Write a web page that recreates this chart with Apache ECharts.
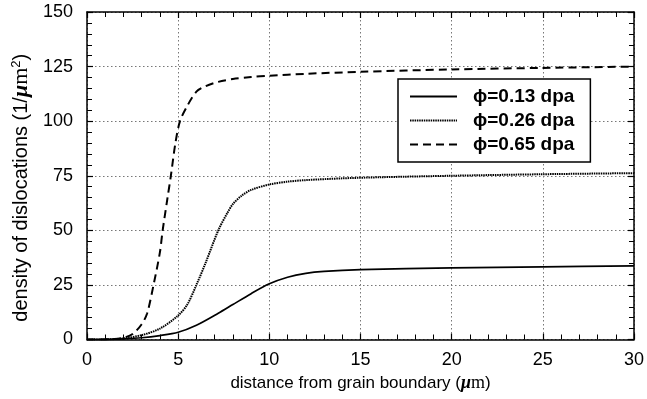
<!DOCTYPE html>
<html><head><meta charset="utf-8">
<script src="https://cdn.jsdelivr.net/npm/echarts@6/dist/echarts.min.js"></script>
<style>html,body{margin:0;padding:0;background:#fff}#c{width:647px;height:399px}</style>
</head><body><div id="c"></div>
<script>
const seriesNames = ['ϕ=0.13 dpa', 'ϕ=0.26 dpa', 'ϕ=0.65 dpa'];
const xTicks = [0, 5, 10, 15, 20, 25, 30];
const yTicks = [0, 25, 50, 75, 100, 125, 150];
const solid013 = [[0,0],[1,0.05],[2,0.3],[3,0.8],[4,1.8],[5,3.3],[6,6.5],[7.2,12],[8,16],[9,21],[10,25.5],[11,28.5],[12,30.3],[13,31.2],[15,32],[20,32.8],[25,33.3],[30,33.7]];
const dotted026 = [[0,0],[1,0.05],[2,0.5],[3,2],[4,5],[5,11],[5.5,16],[6,25],[6.5,35],[7.2,50],[7.7,58],[8,62],[8.5,66],[9,68.5],[10,71],[11,72.3],[12,73],[14,73.8],[16,74.3],[20,75],[25,75.7],[30,76.2]];
const dashed065 = [[0,0],[1,0.05],[1.5,0.2],[2,0.8],[2.5,2.5],[3,7],[3.3,12],[3.65,25],[4,40],[4.15,50],[4.4,64],[4.6,75],[4.85,90],[5.1,100],[5.5,107],[6,113.5],[6.5,116],[7.2,118],[8,119.3],[9,120.2],[10,120.8],[12,121.7],[15,122.6],[20,123.7],[25,124.4],[30,125]];

const FONT = '"Liberation Sans", Arial, Helvetica, sans-serif';
const SERIF = '"Liberation Serif", "Times New Roman", serif';
const chart = echarts.init(document.getElementById('c'), null, {renderer: 'canvas'});
const axisLine = {show: true, onZero: false, lineStyle: {color: '#000', width: 1.5}};
const tick = {show: true, inside: true, length: 6, lineStyle: {color: '#000', width: 1.2}};
const minor = {show: true, splitNumber: 5, length: 5, lineStyle: {color: '#000', width: 1}};
const grid = {show: true, lineStyle: {color: '#777', width: 1, type: [1.5, 2.5]}};
const xMin = xTicks[0], xMax = xTicks[xTicks.length-1], xInt = xTicks[1]-xTicks[0];
const yMin = yTicks[0], yMax = yTicks[yTicks.length-1], yInt = yTicks[1]-yTicks[0];

chart.setOption({
  animation: false,
  backgroundColor: '#fff',
  grid: {left: 87, right: 9, top: 12, bottom: 59.5, containLabel: false},
  legend: {
    orient: 'vertical', left: 398, top: 79,
    data: seriesNames,
    itemWidth: 47, itemHeight: 20, itemGap: 5,
    padding: [8, 16, 8, 11],
    backgroundColor: '#fff', borderColor: '#000', borderWidth: 1.5, borderRadius: 0,
    itemStyle: {opacity: 0, borderWidth: 0},
    textStyle: {fontFamily: FONT, fontSize: 19, fontWeight: 'bold', color: '#000', padding: [0, 0, 0, 11]}
  },
  xAxis: [
    {type: 'value', position: 'bottom', min: xMin, max: xMax, interval: xInt,
     axisLine, axisTick: tick, minorTick: minor, splitLine: grid,
     axisLabel: {color: '#000', fontFamily: FONT, fontSize: 18, margin: 12},
     name: '{t|distance from grain boundary (}{m|μ}{s|m}{t|)}', nameLocation: 'middle', nameGap: 32,
     nameTextStyle: {rich: {
       t: {fontFamily: FONT, fontSize: 17, color: '#000'},
       m: {fontFamily: SERIF, fontStyle: 'italic', fontWeight: 'bold', fontSize: 18, color: '#000'},
       s: {fontFamily: SERIF, fontSize: 18, color: '#000'}
     }}},
    {type: 'value', position: 'top', min: xMin, max: xMax, interval: xInt,
     axisLine, axisTick: tick, minorTick: minor, splitLine: {show: false}, axisLabel: {show: false}}
  ],
  yAxis: [
    {type: 'value', position: 'left', min: yMin, max: yMax, interval: yInt,
     axisLine, axisTick: tick, minorTick: minor, splitLine: grid,
     axisLabel: {color: '#000', fontFamily: FONT, fontSize: 18, margin: 14},
     name: '{t|density of dislocations (1/}{m|μ}{s|m}{p|2}{t|)}', nameLocation: 'middle', nameGap: 54, nameRotate: 90,
     nameTextStyle: {padding: [0, 24, 0, 0], rich: {
       t: {fontFamily: FONT, fontSize: 20, color: '#000'},
       m: {fontFamily: SERIF, fontStyle: 'italic', fontWeight: 'bold', fontSize: 22, color: '#000'},
       s: {fontFamily: SERIF, fontSize: 22, color: '#000'},
       p: {fontFamily: FONT, fontSize: 13, color: '#000', verticalAlign: 'top', padding: [0, 0, 10, 0]}
     }}},
    {type: 'value', position: 'right', min: yMin, max: yMax, interval: yInt,
     axisLine, axisTick: tick, minorTick: minor, splitLine: {show: false}, axisLabel: {show: false}}
  ],
  series: [
    {name: seriesNames[0], type: 'line', data: solid013, smooth: 0.3, showSymbol: false, symbol: 'none', symbolSize: 0,
     lineStyle: {color: '#000', width: 1.7, type: 'solid'}, itemStyle: {color: '#000'}},
    {name: seriesNames[1], type: 'line', data: dotted026, smooth: 0.3, showSymbol: false, symbol: 'none', symbolSize: 0,
     lineStyle: {color: '#000', width: 2, type: [1.5, 0.8]}, itemStyle: {color: '#000'}},
    {name: seriesNames[2], type: 'line', data: dashed065, smooth: 0.3, showSymbol: false, symbol: 'none', symbolSize: 0,
     lineStyle: {color: '#000', width: 2, type: [8, 5]}, itemStyle: {color: '#000'}}
  ]
});
</script></body></html>
